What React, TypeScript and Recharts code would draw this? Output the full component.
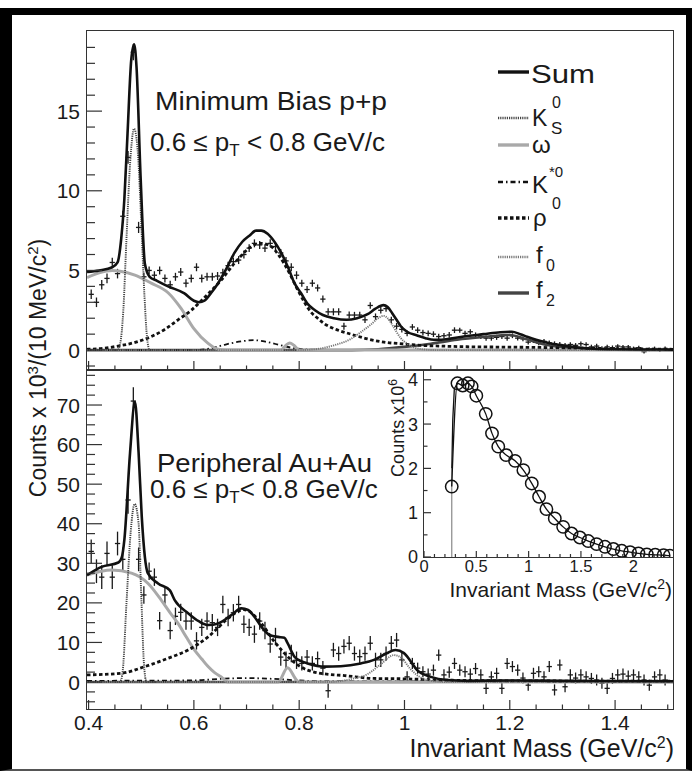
import { ComposedChart, Line, Scatter, ErrorBar, XAxis, YAxis } from 'recharts';

// invariant mass bins (GeV/c^2), 10 MeV wide
const massBins = [
  0.405, 0.415, 0.425, 0.435, 0.445, 0.455, 0.465, 0.475, 0.485, 0.495,
  0.505, 0.515, 0.525, 0.535, 0.545, 0.555, 0.565, 0.575, 0.585, 0.595,
  0.605, 0.615, 0.625, 0.635, 0.645, 0.655, 0.665, 0.675, 0.685, 0.695,
  0.705, 0.715, 0.725, 0.735, 0.745, 0.755, 0.765, 0.775, 0.785, 0.795,
  0.805, 0.815, 0.825, 0.835, 0.845, 0.855, 0.865, 0.875, 0.885, 0.895,
  0.905, 0.915, 0.925, 0.935, 0.945, 0.955, 0.965, 0.975, 0.985, 0.995,
  1.005, 1.015, 1.025, 1.035, 1.045, 1.055, 1.065, 1.075, 1.085, 1.095,
  1.105, 1.115, 1.125, 1.135, 1.145, 1.155, 1.165, 1.175, 1.185, 1.195,
  1.205, 1.215, 1.225, 1.235, 1.245, 1.255, 1.265, 1.275, 1.285, 1.295,
  1.305, 1.315, 1.325, 1.335, 1.345, 1.355, 1.365, 1.375, 1.385, 1.395,
  1.405, 1.415, 1.425, 1.435, 1.445, 1.455, 1.465, 1.475, 1.485, 1.495,
];
const binHalfWidth = 0.005;

// Minimum bias p+p, counts x 10^3
const ppCounts = [
  3.5, 3.0, 4.1, 4.5, 5.5, 4.8, 8.4, 12.1, 18.7, 7.7,
  4.6, 5.0, 4.7, 5.0, 4.5, 4.1, 4.6, 4.9, 4.2, 4.5,
  5.2, 4.5, 4.6, 4.6, 4.65, 4.85, 5.3, 5.55, 5.65, 6.0,
  6.4, 6.7, 6.6, 6.4, 6.7, 6.5, 6.1, 5.6, 5.2, 4.7,
  4.2, 3.8, 4.2, 3.9, 3.2, 2.4, 2.4, 2.4, 1.5, 2.2,
  2.2, 2.2, 1.9, 2.8, 2.1, 2.5, 2.6, 1.9, 1.5, 1.3,
  1.05, 1.45, 1.25, 1.1, 1.05, 1.0, 0.85, 0.9, 0.95, 1.25,
  1.25, 1.05, 1.15, 0.95, 0.85, 0.75, 0.75, 0.8, 0.85, 0.75,
  0.9, 0.75, 0.7, 0.5, 0.6, 0.45, 0.55, 0.45, 0.4, 0.35,
  0.3, 0.35, 0.3, 0.4, 0.35, 0.2, 0.25, 0.1, 0.2, 0.15,
  0.25, 0.2, 0.2, 0.1, 0.15, -0.1, 0.05, 0.1, 0.0, 0.1,
];
const ppErrors = [
  0.3, 0.3, 0.3, 0.3, 0.3, 0.3, 0.35, 0.4, 0.5, 0.35,
  0.25, 0.25, 0.25, 0.25, 0.25, 0.25, 0.25, 0.25, 0.25, 0.25,
  0.25, 0.25, 0.25, 0.25, 0.25, 0.25, 0.25, 0.25, 0.25, 0.25,
  0.25, 0.25, 0.25, 0.25, 0.25, 0.25, 0.25, 0.25, 0.25, 0.25,
  0.22, 0.22, 0.22, 0.22, 0.22, 0.22, 0.22, 0.22, 0.22, 0.22,
  0.2, 0.2, 0.2, 0.2, 0.2, 0.2, 0.2, 0.2, 0.2, 0.2,
  0.18, 0.18, 0.18, 0.18, 0.18, 0.18, 0.18, 0.18, 0.18, 0.18,
  0.16, 0.16, 0.16, 0.16, 0.16, 0.16, 0.16, 0.16, 0.16, 0.16,
  0.15, 0.15, 0.15, 0.15, 0.15, 0.15, 0.15, 0.15, 0.15, 0.15,
  0.14, 0.14, 0.14, 0.14, 0.14, 0.14, 0.14, 0.14, 0.14, 0.14,
  0.12, 0.12, 0.12, 0.12, 0.12, 0.12, 0.12, 0.12, 0.12, 0.12,
];

// Peripheral Au+Au, counts x 10^3
const aaCounts = [
  33, 28, 26.5, 32.5, 26.5, 35, 31, 46, 71, 31,
  22, 28, 26.5, 15.5, 22, 13, 16.6, 17.6, 15.4, 15.4,
  10.4, 13.8, 15.4, 15, 13.8, 19.6, 16.3, 17.5, 19.6, 14.6,
  13.8, 12.1, 15.4, 13, 9.6, 11.5, 6.3, 5.5, 7.2, 5.5,
  4.7, 6.3, 4.7, 5.9, 3.5, -2.2, 8.1, 7.2, 9.0, 9.8,
  7.2, 6.4, 7.2, 9.8, 5.6, 5.6, 7.2, 9.8, 10.6, 5.6,
  1.3, 4.7, 3.5, 2.6, 2.0, 3.0, 6.8, 1.8, 2.5, 4.7,
  3.0, 2.6, 2.0, 3.4, 1.8, -1.6, 1.3, 2.2, -1.6, 4.7,
  3.9, 3.0, 1.0, -0.8, 2.2, 2.6, 1.3, 3.9, -2.0, 4.3,
  -1.2, 1.8, 1.0, 1.8, 1.3, 0.9, 0.5, -0.3, -1.6, 0.9,
  1.8, 2.0, 1.5, 1.8, 1.3, 0.5, -0.8, 1.3, 1.8, 0.5,
];
const aaErrors = [
  3, 3, 3, 3, 3, 3, 3, 3.5, 3.5, 3,
  2.2, 2.2, 2.2, 2.2, 2.2, 2.2, 2.2, 2.2, 2.2, 2.2,
  2.2, 2.2, 2.2, 2.2, 2.2, 2.2, 2.2, 2.2, 2.2, 2.2,
  2.2, 2.2, 2.2, 2.2, 2.2, 2.2, 2.2, 2.2, 2.2, 2.2,
  1.8, 1.8, 1.8, 1.8, 1.8, 1.8, 1.8, 1.8, 1.8, 1.8,
  1.8, 1.8, 1.8, 1.8, 1.8, 1.8, 1.8, 1.8, 1.8, 1.8,
  1.4, 1.4, 1.4, 1.4, 1.4, 1.4, 1.4, 1.4, 1.4, 1.4,
  1.4, 1.4, 1.4, 1.4, 1.4, 1.4, 1.4, 1.4, 1.4, 1.4,
  1.4, 1.4, 1.4, 1.4, 1.4, 1.4, 1.4, 1.4, 1.4, 1.4,
  1.4, 1.4, 1.4, 1.4, 1.4, 1.4, 1.4, 1.4, 1.4, 1.4,
  1.4, 1.4, 1.4, 1.4, 1.4, 1.4, 1.4, 1.4, 1.4, 1.4,
];

// fit components, [mass, counts]
const ppSum = [
  [0.397, 4.9], [0.42, 5.0], [0.445, 5.2], [0.455, 5.5], [0.462, 7.0], [0.468, 9.5], [0.474, 13.6],
  [0.481, 18.2], [0.4865, 19.2], [0.491, 17.8], [0.499, 10.7], [0.507, 5.4], [0.516, 4.6], [0.53, 4.35],
  [0.551, 4.0], [0.582, 3.56], [0.6, 3.1], [0.61, 3.0], [0.62, 3.1], [0.633, 3.6], [0.646, 4.2],
  [0.66, 5.0], [0.677, 6.1], [0.692, 6.8], [0.706, 7.2], [0.718, 7.5], [0.728, 7.5], [0.74, 7.3],
  [0.753, 6.8], [0.766, 6.1], [0.78, 5.1], [0.791, 4.2], [0.803, 3.6], [0.816, 2.9], [0.83, 2.5],
  [0.845, 2.2], [0.866, 2.0], [0.89, 1.9], [0.91, 2.0], [0.93, 2.25], [0.945, 2.6], [0.96, 2.82],
  [0.968, 2.7], [0.977, 2.3], [0.985, 1.9], [0.993, 1.5], [1.005, 1.15], [1.024, 0.92], [1.04, 0.75],
  [1.056, 0.65], [1.07, 0.65], [1.0875, 0.72], [1.119, 0.88], [1.15, 1.0], [1.182, 1.12], [1.204, 1.15],
  [1.22, 1.0], [1.233, 0.84], [1.25, 0.65], [1.264, 0.52], [1.28, 0.4], [1.296, 0.31], [1.327, 0.17],
  [1.36, 0.08], [1.4, 0.05], [1.45, 0.04], [1.51, 0.03],
];
const ppK0s = [
  [0.44, 0], [0.455, 0], [0.46, 0.4], [0.466, 2.5], [0.472, 7], [0.479, 11.8], [0.4865, 13.9],
  [0.494, 12.2], [0.5, 8], [0.506, 3.5], [0.511, 0.8], [0.516, 0], [0.53, 0],
];
const ppOmega = [
  [0.397, 4.55], [0.42, 4.85], [0.445, 5.0], [0.46, 4.95], [0.488, 4.7], [0.519, 4.2], [0.551, 3.6],
  [0.576, 2.6], [0.6, 1.35], [0.627, 0.42], [0.646, 0.05], [0.66, 0], [0.765, 0], [0.775, 0.3],
  [0.782, 0.45], [0.79, 0.3], [0.8, 0], [1.51, 0],
];
const ppKstar = [
  [0.397, 0], [0.6, 0], [0.63, 0.1], [0.66, 0.35], [0.69, 0.55], [0.715, 0.62], [0.74, 0.5],
  [0.765, 0.3], [0.79, 0.12], [0.82, 0.03], [0.86, 0], [1.51, 0],
];
const ppRho = [
  [0.397, 0.05], [0.43, 0.12], [0.456, 0.25], [0.49, 0.5], [0.519, 0.85], [0.545, 1.3], [0.57, 1.9],
  [0.595, 2.5], [0.614, 3.1], [0.635, 3.8], [0.652, 4.4], [0.677, 5.45], [0.695, 6.1], [0.709, 6.5],
  [0.728, 6.7], [0.747, 6.5], [0.76, 6.0], [0.772, 5.4], [0.785, 4.6], [0.797, 3.8], [0.81, 3.0],
  [0.822, 2.4], [0.835, 2.0], [0.848, 1.65], [0.866, 1.35], [0.898, 1.0], [0.93, 0.7], [0.961, 0.5],
  [1.0, 0.38], [1.024, 0.31], [1.07, 0.25], [1.119, 0.21], [1.18, 0.19], [1.245, 0.17], [1.37, 0.1],
  [1.51, 0.05],
];
const ppF0 = [
  [0.397, 0], [0.8, 0], [0.83, 0.05], [0.866, 0.3], [0.898, 0.7], [0.916, 1.1], [0.936, 1.6],
  [0.95, 2.0], [0.96, 2.15], [0.968, 2.0], [0.98, 1.4], [0.993, 0.75], [1.005, 0.4], [1.02, 0.15],
  [1.04, 0.03], [1.06, 0], [1.51, 0],
];
const ppF2 = [
  [0.397, 0], [0.9, 0], [0.95, 0.05], [1.0, 0.2], [1.05, 0.4], [1.1, 0.65], [1.15, 0.82], [1.2, 0.95],
  [1.23, 0.7], [1.26, 0.4], [1.3, 0.18], [1.35, 0.07], [1.4, 0.02], [1.51, 0],
];

const aaSum = [
  [0.397, 27], [0.4245, 29.1], [0.4566, 30.2], [0.463, 31.5], [0.468, 36], [0.4787, 57.8], [0.488, 70.8],
  [0.495, 58], [0.501, 41.8], [0.507, 31.5], [0.5125, 27.5], [0.532, 24.9], [0.554, 23.2], [0.5636, 20.7],
  [0.589, 17.4], [0.61, 15.3], [0.627, 14.4], [0.646, 14.8], [0.671, 16.9], [0.69, 18.6], [0.703, 18.2],
  [0.715, 16.5], [0.728, 14], [0.745, 11.8], [0.76, 11.4], [0.772, 11.2], [0.778, 9.8], [0.791, 6.4],
  [0.805, 5.2], [0.816, 4.7], [0.848, 3.9], [0.879, 4.0], [0.917, 4.7], [0.942, 5.6], [0.965, 7.2],
  [0.983, 8.1], [0.999, 7.3], [1.012, 5.2], [1.024, 3.0], [1.05, 1.3], [1.081, 0.5], [1.12, 0.3],
  [1.2, 0.4], [1.3, 0.3], [1.51, 0.2],
];
const aaK0s = [
  [0.45, 0], [0.46, 0], [0.465, 3], [0.472, 20], [0.48, 38], [0.4875, 45], [0.495, 40], [0.5, 22],
  [0.505, 5], [0.51, 0], [0.53, 0],
];
const aaOmega = [
  [0.397, 27], [0.4436, 28.3], [0.4815, 27.5], [0.513, 24.9], [0.538, 20.7], [0.555, 17.5], [0.57, 14.8],
  [0.585, 11.5], [0.601, 8.1], [0.615, 5.8], [0.627, 3.9], [0.64, 2.3], [0.652, 1.3], [0.665, 0],
  [0.76, 0], [0.778, 3.6], [0.795, 0.5], [0.8, 0], [1.51, 0],
];
const aaKstar = [
  [0.397, 0.3], [0.6, 0.4], [0.65, 0.8], [0.7, 1.0], [0.75, 0.8], [0.8, 0.4], [0.85, 0.2], [1.51, 0.1],
];
const aaRho = [
  [0.397, 1.8], [0.462, 2.2], [0.507, 3.9], [0.551, 6], [0.589, 8.1], [0.627, 11.4], [0.665, 16.1],
  [0.684, 17.9], [0.695, 18.3], [0.703, 18.0], [0.728, 14.8], [0.753, 10.2], [0.785, 5.6], [0.816, 3.0],
  [0.867, 1.8], [0.879, 1.7], [0.942, 0.9], [1.0, 0.8], [1.07, 0.5], [1.2, 0.3], [1.51, 0.2],
];
const aaF0 = [
  [0.397, 0], [0.86, 0], [0.9, 0.8], [0.93, 2], [0.955, 4.5], [0.98, 6.8], [0.995, 6], [1.01, 3.5],
  [1.03, 1.2], [1.05, 0.3], [1.08, 0], [1.51, 0],
];
const aaF2 = [[0.397, 0], [1.0, 0], [1.1, 0.15], [1.2, 0.25], [1.3, 0.1], [1.51, 0]];

// inset: like-sign background, counts x 10^6
const insetMass = [
  0.265, 0.32, 0.37, 0.42, 0.455, 0.5, 0.59, 0.65, 0.71, 0.785, 0.87, 0.95, 1.03, 1.1, 1.17,
  1.25, 1.33, 1.41, 1.49, 1.57, 1.65, 1.73, 1.81, 1.89, 1.97, 2.05, 2.13, 2.21, 2.29, 2.35,
];
const insetCounts = [
  1.59, 3.92, 3.87, 3.92, 3.85, 3.64, 3.23, 2.79, 2.49, 2.3, 2.17, 1.96, 1.66, 1.36, 1.08,
  0.87, 0.68, 0.53, 0.44, 0.36, 0.29, 0.23, 0.18, 0.14, 0.11, 0.08, 0.06, 0.05, 0.04, 0.03,
];
const insetEdge = [[0.265, 0], [0.265, 2.0]];
const insetRise = [[0.266, 2.0], [0.275, 3.1], [0.29, 3.8], [0.32, 3.92]];

// axis ticks
const massMajorTicks = [0.4, 0.6, 0.8, 1.0, 1.2, 1.4];
const massMinorTicks = [0.45, 0.5, 0.55, 0.65, 0.7, 0.75, 0.85, 0.9, 0.95, 1.05, 1.1, 1.15, 1.25, 1.3, 1.35, 1.45, 1.5];
const ppMajorTicks = [0, 5, 10, 15];
const ppMinorTicks = [-1, 1, 2, 3, 4, 6, 7, 8, 9, 11, 12, 13, 14, 16, 17, 18, 19];
const aaMajorTicks = [0, 10, 20, 30, 40, 50, 60, 70];
const aaMinorTicks = [
  -5, -2.5, 2.5, 5, 7.5, 12.5, 15, 17.5, 22.5, 25, 27.5, 32.5, 35, 37.5, 42.5, 45, 47.5, 52.5, 55,
  57.5, 62.5, 65, 67.5, 72.5, 75, 77.5,
];
const insetXMajorTicks = [0, 0.5, 1, 1.5, 2];
const insetXMinorTicks = [0.1, 0.2, 0.3, 0.4, 0.6, 0.7, 0.8, 0.9, 1.1, 1.2, 1.3, 1.4, 1.6, 1.7, 1.8, 1.9, 2.1, 2.2, 2.3];
const insetYMajorTicks = [0, 1, 2, 3, 4];
const insetYMinorTicks = [0.5, 1.5, 2.5, 3.5];

const W = 692;
const H = 771;
const FONT = '"Liberation Sans", Arial, Helvetica, sans-serif';
const INK = '#1a1a1a';
const FRAME = '#333';

const styles: Record<string, any> = {
  sum: { stroke: '#111', strokeWidth: 2.6 },
  k0s: { stroke: '#444', strokeWidth: 1.9, strokeDasharray: '1.2 1' },
  omega: { stroke: '#a9a9a9', strokeWidth: 3 },
  kstar: { stroke: '#111', strokeWidth: 1.8, strokeDasharray: '5 3 1.5 3' },
  rho: { stroke: '#111', strokeWidth: 2.8, strokeDasharray: '3.5 2.5' },
  f0: { stroke: '#777', strokeWidth: 1.9, strokeDasharray: '1.2 1' },
  f2: { stroke: '#444', strokeWidth: 2.6 },
};

const toPts = (pairs: number[][]) => pairs.map(([m, v]) => ({ m, v }));
const binPts = (counts: number[], errs: number[]) =>
  massBins.map((m, i) => ({ m, v: counts[i], ey: errs[i], ex: binHalfWidth }));
const isIn = (list: number[], v: number) => list.some((t) => Math.abs(t - v) < 1e-6);
const fmt = (v: number) => String(Math.round(v * 100) / 100);

function XTick({ x, y, payload, cfg }: any) {
  const major = isIn(cfg.majors, payload.value);
  return (
    <g>
      <line x1={x} x2={x} y1={y} y2={y - (major ? cfg.majorLen : cfg.minorLen)} stroke={FRAME} strokeWidth={1.2} />
      {cfg.labels && major ? (
        <text x={x} y={y + cfg.offset} textAnchor="middle" fontSize={cfg.fontSize} fontFamily={FONT} fill={INK}>
          {fmt(payload.value)}
        </text>
      ) : null}
    </g>
  );
}

function YTick({ x, y, payload, cfg }: any) {
  const major = isIn(cfg.majors, payload.value);
  return (
    <g>
      <line x1={x} x2={x + (major ? cfg.majorLen : cfg.minorLen)} y1={y} y2={y} stroke={FRAME} strokeWidth={1.2} />
      {major ? (
        <text x={x - cfg.offset} y={y + cfg.fontSize * 0.36} textAnchor="end" fontSize={cfg.fontSize} fontFamily={FONT} fill={INK}>
          {fmt(payload.value)}
        </text>
      ) : null}
    </g>
  );
}

const PLOT_L = 87;
const PLOT_R = 673;

function MassPanel({ top, bottom, yDomain, yMajor, yMinor, points, curves, xLabels }: any) {
  const xcfg = { majors: massMajorTicks, majorLen: 9, minorLen: 4.5, labels: xLabels, fontSize: 21, offset: 21 };
  const ycfg = { majors: yMajor, majorLen: 15, minorLen: 8, fontSize: 21, offset: 7 };
  return (
    <div style={{ position: 'absolute', left: 0, top: 0 }}>
      <ComposedChart width={W} height={H} margin={{ top, left: PLOT_L - 1, right: W - PLOT_R, bottom: H - bottom - 1 }}>
        <XAxis
          type="number"
          dataKey="m"
          domain={[0.397, 1.51]}
          allowDataOverflow
          ticks={[...massMajorTicks, ...massMinorTicks]}
          interval={0}
          height={1}
          tickSize={0}
          tickMargin={0}
          tickLine={false}
          axisLine={false}
          tick={(p: any) => <XTick {...p} cfg={xcfg} />}
        />
        <YAxis
          type="number"
          dataKey="v"
          domain={yDomain}
          allowDataOverflow
          ticks={[...yMajor, ...yMinor]}
          interval={0}
          width={1}
          tickSize={0}
          tickMargin={0}
          tickLine={false}
          axisLine={false}
          tick={(p: any) => <YTick {...p} cfg={ycfg} />}
        />
        <Scatter data={points} dataKey="v" isAnimationActive={false} shape={() => <g />}>
          <ErrorBar dataKey="ey" direction="y" width={0} stroke={INK} strokeWidth={1.3} isAnimationActive={false} />
          <ErrorBar dataKey="ex" direction="x" width={0} stroke={INK} strokeWidth={1.3} isAnimationActive={false} />
        </Scatter>
        {curves.map((c: any) => (
          <Line
            key={c.key}
            data={toPts(c.pairs)}
            dataKey="v"
            type="monotone"
            dot={false}
            activeDot={false}
            isAnimationActive={false}
            {...styles[c.key]}
          />
        ))}
      </ComposedChart>
    </div>
  );
}

function Inset() {
  const xcfg = { majors: insetXMajorTicks, majorLen: 6, minorLen: 3, labels: true, fontSize: 16.5, offset: 15 };
  const ycfg = { majors: insetYMajorTicks, majorLen: 7, minorLen: 3.5, fontSize: 18, offset: 6 };
  const circles = insetMass.map((m, i) => ({ m, v: insetCounts[i] }));
  return (
    <div style={{ position: 'absolute', left: 0, top: 0 }}>
      <ComposedChart width={W} height={H} margin={{ top: 370, left: 423, right: W - 673, bottom: H - 557 - 1 }}>
        <XAxis
          type="number"
          dataKey="m"
          domain={[0, 2.38]}
          allowDataOverflow
          ticks={[...insetXMajorTicks, ...insetXMinorTicks]}
          interval={0}
          height={1}
          tickSize={0}
          tickMargin={0}
          tickLine={false}
          axisLine={false}
          tick={(p: any) => <XTick {...p} cfg={xcfg} />}
        />
        <YAxis
          type="number"
          dataKey="v"
          domain={[0, 4.22]}
          allowDataOverflow
          ticks={[...insetYMajorTicks, ...insetYMinorTicks]}
          interval={0}
          width={1}
          tickSize={0}
          tickMargin={0}
          tickLine={false}
          axisLine={false}
          tick={(p: any) => <YTick {...p} cfg={ycfg} />}
        />
        <Line data={toPts(insetEdge)} dataKey="v" type="linear" dot={false} activeDot={false} isAnimationActive={false} stroke="#999" strokeWidth={1.4} />
        <Line data={toPts(insetRise)} dataKey="v" type="linear" dot={false} activeDot={false} isAnimationActive={false} stroke="#111" strokeWidth={1.3} />
        <Line data={circles} dataKey="v" type="monotone" dot={false} activeDot={false} isAnimationActive={false} stroke="#111" strokeWidth={1.3} />
        <Scatter
          data={circles}
          dataKey="v"
          isAnimationActive={false}
          shape={(p: any) => <circle cx={p.cx} cy={p.cy} r={6.2} fill="none" stroke="#111" strokeWidth={1.5} />}
        />
      </ComposedChart>
    </div>
  );
}

const legendRows = [
  { key: 'sum', y: 72 },
  { key: 'k0s', y: 118 },
  { key: 'omega', y: 145 },
  { key: 'kstar', y: 182 },
  { key: 'rho', y: 218 },
  { key: 'f0', y: 257 },
  { key: 'f2', y: 293 },
];

function Annotations() {
  const t = { fontFamily: FONT, fill: INK };
  const sample = (key: string) => {
    const s = { ...styles[key] };
    if (key === 'k0s' || key === 'f0') s.strokeWidth = 2.4;
    if (key === 'sum' || key === 'f2' || key === 'omega') s.strokeWidth = 3.4;
    if (key === 'rho') s.strokeWidth = 3.4;
    if (key === 'kstar') s.strokeWidth = 2.4;
    return s;
  };
  return (
    <svg width={W} height={H} style={{ position: 'absolute', left: 0, top: 0 }}>
      {legendRows.map((r) => (
        <line key={r.key} x1={498} x2={529} y1={r.y} y2={r.y} {...sample(r.key)} />
      ))}
      <text x={531} y={83} fontSize={25} textLength={64} lengthAdjust="spacingAndGlyphs" {...t}>Sum</text>
      <text x={532} y={126} fontSize={23} {...t}>K</text>
      <text x={552} y={108} fontSize={16} {...t}>0</text>
      <text x={551} y={134} fontSize={17} {...t}>S</text>
      <text x={532} y={153} fontSize={24} {...t}>ω</text>
      <text x={532} y={193} fontSize={24} {...t}>K</text>
      <text x={549} y={177} fontSize={15} {...t}>*0</text>
      <text x={533} y={226} fontSize={24} {...t}>ρ</text>
      <text x={552} y={209} fontSize={16} {...t}>0</text>
      <text x={536} y={263} fontSize={24} {...t}>f</text>
      <text x={546} y={271} fontSize={16} {...t}>0</text>
      <text x={536} y={298} fontSize={24} {...t}>f</text>
      <text x={546} y={306} fontSize={16} {...t}>2</text>

      <text x={155} y={110} fontSize={25} textLength={232} lengthAdjust="spacingAndGlyphs" {...t}>Minimum Bias p+p</text>
      <text x={150} y={151} fontSize={26} {...t}>
        0.6 ≤ p<tspan dy={5} fontSize={17}>T</tspan>
        <tspan dy={-5}> &lt; 0.8 GeV/c</tspan>
      </text>
      <text x={157} y={472} fontSize={25} textLength={215} lengthAdjust="spacingAndGlyphs" {...t}>Peripheral Au+Au</text>
      <text x={150} y={498} fontSize={26} {...t}>
        0.6 ≤ p<tspan dy={5} fontSize={17}>T</tspan>
        <tspan dy={-5}>&lt; 0.8 GeV/c</tspan>
      </text>

      <text transform="rotate(-90)" x={-368} y={46} textAnchor="middle" fontSize={23} {...t}>
        Counts x 10<tspan dy={-8} fontSize={15}>3</tspan>
        <tspan dy={8}>/(10 MeV/c</tspan>
        <tspan dy={-8} fontSize={15}>2</tspan>
        <tspan dy={8}>)</tspan>
      </text>
      <text x={674} y={757} textAnchor="end" fontSize={25} {...t}>
        Invariant Mass (GeV/c<tspan dy={-9} fontSize={16}>2</tspan>
        <tspan dy={9}>)</tspan>
      </text>

      <text transform="rotate(-90)" x={-428} y={404} textAnchor="middle" fontSize={18} {...t}>
        Counts x10<tspan dy={-7} fontSize={12}>6</tspan>
      </text>
      <text x={672} y={597} textAnchor="end" fontSize={21} {...t}>
        Invariant Mass (GeV/c<tspan dy={-8} fontSize={14}>2</tspan>
        <tspan dy={8}>)</tspan>
      </text>
    </svg>
  );
}

const ppCurves = [
  { key: 'f2', pairs: ppF2 },
  { key: 'kstar', pairs: ppKstar },
  { key: 'omega', pairs: ppOmega },
  { key: 'rho', pairs: ppRho },
  { key: 'f0', pairs: ppF0 },
  { key: 'k0s', pairs: ppK0s },
  { key: 'sum', pairs: ppSum },
];
const aaCurves = [
  { key: 'f2', pairs: aaF2 },
  { key: 'kstar', pairs: aaKstar },
  { key: 'omega', pairs: aaOmega },
  { key: 'rho', pairs: aaRho },
  { key: 'f0', pairs: aaF0 },
  { key: 'k0s', pairs: aaK0s },
  { key: 'sum', pairs: aaSum },
];

export default function App() {
  const box = (l: number, tp: number, r: number, b: number) => (
    <div
      style={{
        position: 'absolute',
        left: l - 0.75,
        top: tp - 0.75,
        width: r - l + 1.5,
        height: b - tp + 1.5,
        border: `1.5px solid ${FRAME}`,
        boxSizing: 'border-box',
      }}
    />
  );
  return (
    <div style={{ position: 'absolute', left: 0, top: 0, width: W, height: H, background: '#fff', overflow: 'hidden' }}>
      <div
        style={{
          position: 'absolute',
          left: 0,
          top: 8,
          width: W,
          height: H - 8,
          boxSizing: 'border-box',
          borderTop: '7px solid #000',
          borderLeft: '12px solid #000',
          borderRight: '6px solid #000',
          borderBottom: '2px solid #555',
        }}
      />
      {box(PLOT_L, 31, PLOT_R, 370)}
      {box(PLOT_L, 370, PLOT_R, 709)}
      {box(424, 370, 673, 557)}
      <MassPanel
        top={31}
        bottom={370}
        yDomain={[-1.25, 20.03]}
        yMajor={ppMajorTicks}
        yMinor={ppMinorTicks}
        points={binPts(ppCounts, ppErrors)}
        curves={ppCurves}
        xLabels={false}
      />
      <MassPanel
        top={370}
        bottom={709}
        yDomain={[-6.82, 78.85]}
        yMajor={aaMajorTicks}
        yMinor={aaMinorTicks}
        points={binPts(aaCounts, aaErrors)}
        curves={aaCurves}
        xLabels={true}
      />
      <Inset />
      <Annotations />
    </div>
  );
}
